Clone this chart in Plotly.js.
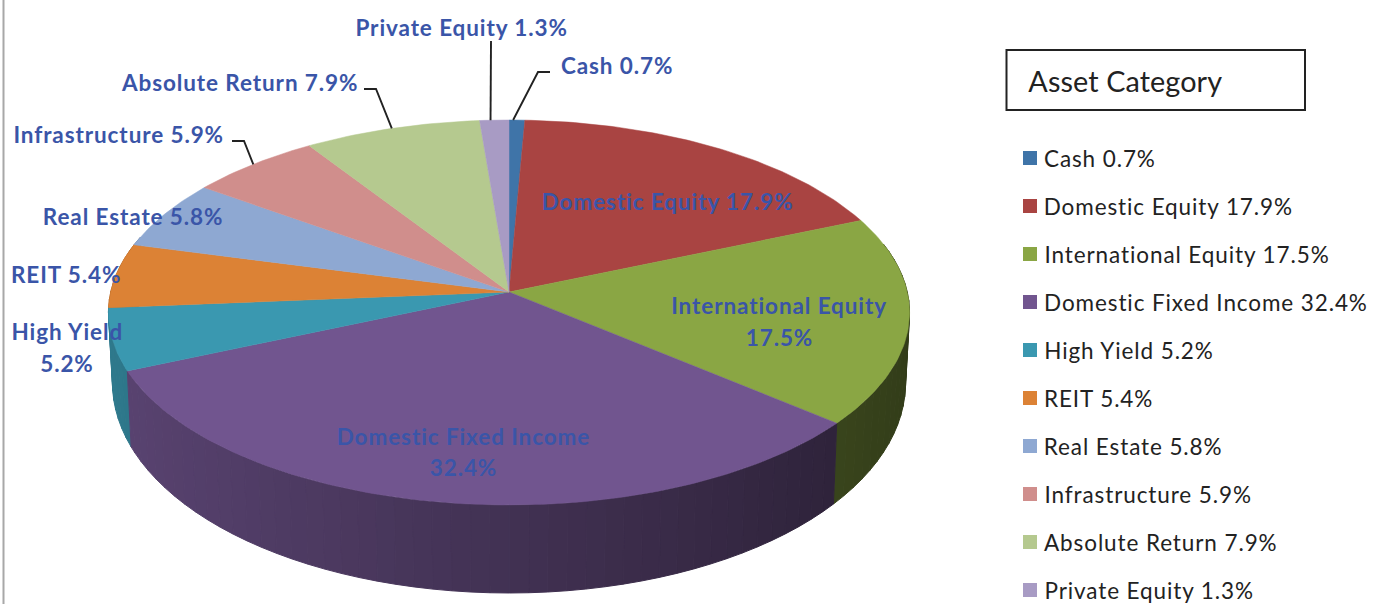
<!DOCTYPE html>
<html><head><meta charset="utf-8">
<script src="https://cdn.plot.ly/plotly-3.0.1.min.js"></script>
<style>html,body{margin:0;padding:0;background:#fff}#chart{width:1375px;height:604px}
#chart .annotation text{letter-spacing:0.9px}
#chart .annotation:last-of-type text{letter-spacing:0.1px}
</style>
</head><body><div id="chart"></div>
<script>
// ---- data ----
const categories = ["Cash","Domestic Equity","International Equity","Domestic Fixed Income","High Yield","REIT","Real Estate","Infrastructure","Absolute Return","Private Equity"];
const shares = [0.7,17.9,17.5,32.4,5.2,5.4,5.8,5.9,7.9,1.3];
const colors = ["#3f74a8","#a94442","#8aa644","#71558f","#3a98b0","#dc8235","#8ea8d2","#d08e8c","#b5c98f","#a89bc4"];

// ---- layout constants (pixel space) ----
const W = 1375, H = 604, CX = 509, CY = 292, D = 9.39, FX = 3740, FY = 1787;
const LABEL_FONT = "Lato, 'Open Sans', sans-serif";
const LABEL_COLOR = "#3a55a8";
const LABEL_SIZE = 22.5, LEGEND_SIZE = 22.5;

function rimTop(aDeg){
  const a = aDeg*Math.PI/180, X = Math.sin(a), Y = -Math.cos(a);
  return [CX + FX*X/(D-Y), CY + FY*Y/(D-Y), X, Y];
}
function rimBottom(aDeg){
  const p = rimTop(aDeg);
  return [CX + 0.99*(p[0]-CX), p[1] + 68 + 20*p[3]];
}
function hexShade(hex,f){
  const n = parseInt(hex.slice(1),16);
  const c = [(n>>16)&255,(n>>8)&255,n&255].map(v=>Math.round(v*f));
  return `rgb(${c[0]},${c[1]},${c[2]})`;
}

const total = shares.reduce((a,b)=>a+b,0);
const starts = []; let acc = 0;
shares.forEach(v=>{starts.push(acc/total*360); acc += v;});
const ends = starts.map((s,i)=>s + shares[i]/total*360);

const traces = [];
const common = {type:"scatter",mode:"lines",hoverinfo:"skip",showlegend:false};

// side wall: thin facets, back-to-front
const STEP = 2.5, facets = [];
categories.forEach((c,i)=>{
  for(let a=Math.max(starts[i],75); a<Math.min(ends[i],285); a+=STEP){
    facets.push([a,Math.min(a+STEP,ends[i]),i]);
  }
});
facets.sort((p,q)=>rimTop(p[0])[3]-rimTop(q[0])[3]);
facets.forEach(([a0,a1,i])=>{
  const t0=rimTop(a0),t1=rimTop(a1),b0=rimBottom(a0),b1=rimBottom(a1);
  const f = 0.58 - 0.22*((t0[2]+t1[2])/2);
  const col = hexShade(colors[i],f);
  traces.push({...common,x:[t0[0],t1[0],b1[0],b0[0],t0[0]],y:[t0[1],t1[1],b1[1],b0[1],t0[1]],
    fill:"toself",fillcolor:col,line:{color:col,width:1}});
});

// top face slices
categories.forEach((c,i)=>{
  const xs=[CX],ys=[CY];
  const n=Math.max(4,Math.ceil((ends[i]-starts[i])/1));
  for(let k=0;k<=n;k++){
    const p=rimTop(starts[i]+(ends[i]-starts[i])*k/n); xs.push(p[0]); ys.push(p[1]);
  }
  xs.push(CX); ys.push(CY);
  traces.push({...common,name:c,x:xs,y:ys,fill:"toself",fillcolor:colors[i],line:{color:colors[i],width:0.5}});
});

// leader lines: from slice rim to the label elbow
const leaders = [
  {i:9, da:-0.6, pts:[[491,41]]},
  {i:0, da:-0.6, pts:[[550,72],[538,72]]},
  {i:8, da:0, pts:[[364,89],[376,89]]},
  {i:7, da:0, pts:[[232,141],[244,141]]}
];
leaders.forEach(l=>{
  const p=rimTop((starts[l.i]+ends[l.i])/2 + l.da);
  const xs=l.pts.map(q=>q[0]), ys=l.pts.map(q=>q[1]);
  xs.push(p[0]); ys.push(p[1]);
  traces.push({...common,x:xs,y:ys,line:{color:"#222222",width:1.9}});
});

// legend swatches
const LEG_X = 1030, LEG_Y0 = 158, LEG_DY = 48;
traces.push({type:"scatter",mode:"markers",hoverinfo:"skip",showlegend:false,
  x:categories.map(()=>LEG_X),y:categories.map((c,i)=>LEG_Y0+i*LEG_DY),
  marker:{symbol:"square",size:14,color:colors,line:{width:0}}});

// annotations
const annotations = [];
function note(text,x,y,opt){
  annotations.push(Object.assign({text,x,y,xref:"x",yref:"y",showarrow:false,xanchor:"center",yanchor:"middle",
    font:{family:LABEL_FONT,size:LABEL_SIZE,color:LABEL_COLOR,weight:700}},opt||{}));
}
const labelSpots = [
  {i:0,x:617,ys:[65]},
  {i:1,x:667,ys:[201]},
  {i:2,x:779,ys:[305,337],split:true},
  {i:3,x:463,ys:[436,467],split:true},
  {i:4,x:67,ys:[331,363],split:true},
  {i:5,x:66,ys:[274]},
  {i:6,x:133,ys:[216]},
  {i:7,x:118,ys:[134]},
  {i:8,x:239,ys:[82]},
  {i:9,x:461,ys:[27]}
];
labelSpots.forEach(s=>{
  const pct = shares[s.i].toFixed(1)+"%";
  if(s.split){ note(categories[s.i],s.x,s.ys[0]); note(pct,s.x,s.ys[1]); }
  else note(categories[s.i]+" "+pct,s.x,s.ys[0]);
});
categories.forEach((c,i)=>{
  const txt = c+" "+shares[i].toFixed(1)+"%";
  annotations.push({text:txt,x:1044,y:LEG_Y0+i*LEG_DY,xref:"x",yref:"y",showarrow:false,
    xanchor:"left",yanchor:"middle",xshift:txt.length*0.45-2,font:{family:LABEL_FONT,size:LEGEND_SIZE,color:"#222222"}});
});
annotations.push({text:"Asset Category",x:1027,y:81,xref:"x",yref:"y",showarrow:false,xanchor:"left",yanchor:"middle",xshift:-0.5,
  font:{family:LABEL_FONT,size:28.8,color:"#222222"}});

const layout = {
  width:W,height:H,margin:{l:0,r:0,t:0,b:0},paper_bgcolor:"#fff",plot_bgcolor:"#fff",showlegend:false,hovermode:false,
  xaxis:{range:[0,W],visible:false,fixedrange:true},
  yaxis:{range:[H,0],visible:false,fixedrange:true},
  annotations,
  shapes:[
    {type:"line",xref:"x",yref:"y",x0:3.5,x1:3.5,y0:0,y1:H,line:{color:"#a8a8a8",width:2}},
    {type:"rect",xref:"x",yref:"y",x0:1006.5,x1:1305,y0:50,y1:110,line:{color:"#222",width:2},fillcolor:"rgba(0,0,0,0)"}
  ]
};
Plotly.newPlot("chart",traces,layout,{displayModeBar:false,staticPlot:true});
</script></body></html>
